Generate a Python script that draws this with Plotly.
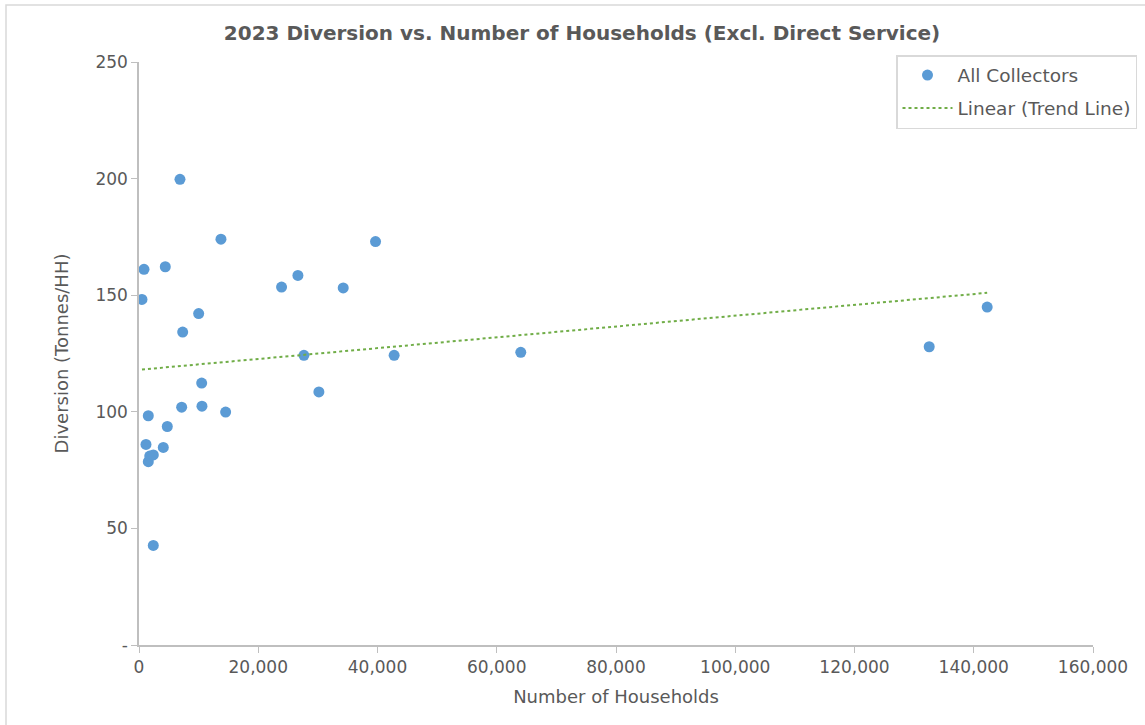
import numpy as np
import plotly.graph_objects as go

# Households served and diversion per collector (2023, excl. direct service)
households = [500, 838, 1173, 1559, 1559, 1800, 2400, 2397, 4073, 4408, 4744,
              6872, 7157, 7324, 10006, 10510, 10560, 13745, 14531, 23910,
              26650, 27660, 30170, 34250, 39670, 42790, 64030, 132530, 142250]
diversion = [148.2, 161.1, 86.0, 98.3, 78.6, 81.0, 81.5, 42.7, 84.7, 162.2, 93.7,
             199.7, 102.0, 134.2, 142.1, 112.3, 102.4, 174.0, 99.9, 153.5,
             158.5, 124.2, 108.5, 153.1, 173.0, 124.2, 125.5, 127.9, 144.9]

x_ticks = [0, 20000, 40000, 60000, 80000, 100000, 120000, 140000, 160000]
x_tick_text = ["0", "20,000", "40,000", "60,000", "80,000", "100,000",
               "120,000", "140,000", "160,000"]
y_ticks = [0, 50, 100, 150, 200, 250]
y_tick_text = ["-", "50", "100", "150", "200", "250"]

# Least-squares linear trend over the observed range
slope, intercept = np.polyfit(households, diversion, 1)
trend_x = [min(households), max(households)]
trend_y = [intercept + slope * v for v in trend_x]

FONT = "DejaVu Sans"
GREY = "#595959"
W, H = 1145, 725
ML, MR, MT, MB = 139, 52, 62, 80

fig = go.Figure()
fig.add_trace(go.Scatter(
    x=households, y=diversion, mode="markers", name="All Collectors",
    legendgroup="a",
    marker=dict(color="#5B9BD5", size=11, line=dict(width=0)),
))
fig.add_trace(go.Scatter(
    x=trend_x, y=trend_y, mode="lines", name="Linear (Trend Line)",
    legendgroup="b",
    line=dict(color="#70AD47", width=2, dash="dot"),
))

pw = W - ML - MR
ph = H - MT - MB
# Chart-area border
fig.add_shape(type="rect", xref="paper", yref="paper",
              x0=(6 - ML) / pw, x1=(W + 20 - ML) / pw,
              y0=-(H + 20 - MT - ph) / ph, y1=(H - 5 - MB) / ph,
              line=dict(color="#D9D9D9", width=1.5), layer="below")

fig.update_layout(
    width=W, height=H,
    margin=dict(l=ML, r=MR, t=MT, b=MB, autoexpand=False),
    paper_bgcolor="white", plot_bgcolor="white",
    font=dict(family=FONT, color=GREY, size=17),
    title=dict(text="<b>2023 Diversion vs. Number of Households (Excl. Direct Service)</b>",
               xref="container", x=582 / W, xanchor="center",
               y=1 - 33 / H, yanchor="middle",
               font=dict(family=FONT, size=20, color=GREY)),
    xaxis=dict(range=[0, 160000], tickvals=x_ticks, ticktext=x_tick_text,
               showgrid=False, zeroline=False, showline=True,
               linecolor="#BFBFBF", linewidth=1.5, ticks="outside",
               ticklen=6, tickcolor="#BFBFBF", automargin=False,
               tickfont=dict(size=17, color=GREY),
               title=dict(text="Number of Households", standoff=14,
                          font=dict(size=18, color=GREY))),
    yaxis=dict(range=[0, 250], tickvals=y_ticks, ticktext=y_tick_text,
               showgrid=False, zeroline=False, showline=True,
               linecolor="#BFBFBF", linewidth=1.5, ticks="outside",
               ticklen=6, tickcolor="#BFBFBF", automargin=False,
               tickfont=dict(size=17, color=GREY),
               title=dict(text="Diversion (Tonnes/HH)", standoff=22,
                          font=dict(size=18, color=GREY))),
    legend=dict(x=(896 - ML) / pw, y=(H - MB - 55) / ph, xanchor="left", yanchor="top",
                bgcolor="white", bordercolor="#D9D9D9", borderwidth=1.5,
                font=dict(size=18.5, color=GREY), tracegroupgap=6,
                itemwidth=50),
    showlegend=True,
)

fig.write_html("out.html")
